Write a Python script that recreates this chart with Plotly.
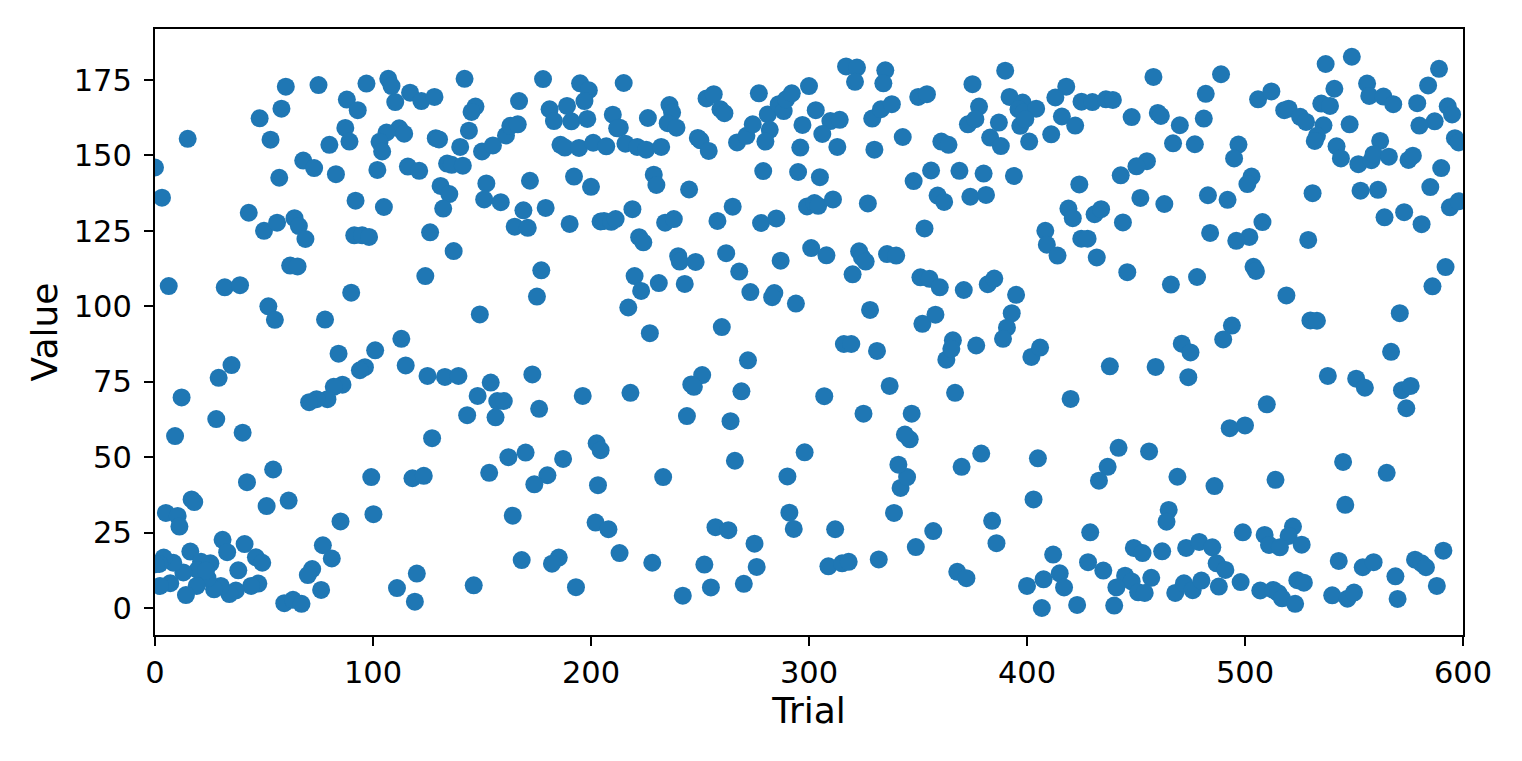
import plotly.graph_objects as go

trial_a = [0,3.2,15,6.3,32,39,52,55,43,50,56,64,66,69,62,65.4,78,90,91.4,95,98.2,92,105,57,53,48,58,60,75,68,73,83,80,87.3,89.2,88,93,97,107,108.5,110.2,117,122.2,128.2,142,147,145.2,144,140,150,155,161,163,166.4,167,178,195,199,197,181,189,183,191,198.3,186,188,194.5,201,112,114.3,106.2,103,104.2,102,116,121.2,128.8,130.3,134,136.1,141.2,131,135,132.2,126.2,137,124,152,151,158.6,172,169,179.2,165,171,190.2,192.2,200,204.4,177.2,175.2,149,113]
value_a = [146,136,155.5,106.7,106.3,107,100,95.5,131,125,127.7,129.2,126.6,122.3,113.5,113.2,95.6,104.5,123.5,123.5,123,135,132.9,142.6,155.2,162.3,165.5,172.8,173.3,148.3,145.8,143.8,153.5,159.1,154.6,168.5,165,173.8,175.4,173,167.7,170.8,168,169.4,175.4,166.2,164.4,158.2,152.8,151.3,153.3,156.6,159.8,160.3,168,175.3,173.9,171.6,168,165.3,166.4,161.4,161.3,162.1,153.5,152.6,152.5,154.2,159,157.2,157.6,154.5,151.3,145.2,146.3,144.9,155.7,155.3,147.3,146.9,146.6,139.9,137.2,132.4,124.5,118.3,110,140.7,135.4,134.5,141.6,131.8,132.6,126.4,126,127.3,143,139.6,128.1,111.9,103.2,97.3,89.2]

trial_b = [115,101,84.2,96.3,94,86,82,79.1,74.1,70.7,125,133,139.2,154,148,157,160,143.2,156.2,173.1,176.2,196.2,127.1,202.6,204.4,162.1,170,187.2,153.3,180,174,203.2,164.1,202.1,168.2,185.2,182.1,193.1,146.2,111,120.1,119.2,99.2,118.1,123.3,100.2,85.1,54.2,42.2,51.2,61.3,35.1,29.2,12.2,28.1,9.2,40.2,16.8,18,5,10.4,11.2,31,41.1,33.1,16.2,46.3,49.2,77,81.1,72.1,70.1,76.2,38.2,59.3,63.3,67.2,47.4,44.1,37.1,34.1,30.2,27.1,25.4,21.1,19.6,24.1,23.4,19.1,14.2,13,8.4,4,2,7,2.3,0.3]
value_b = [80.4,85.4,84.3,79.8,78.8,74,73.3,69.2,69.2,68.2,76.9,76.6,76.9,74.7,70.3,68.6,68.6,63.9,63.2,77.4,66,70.3,56.3,54.6,52.3,50,51.5,49.4,44.8,44,41,40.7,30.6,28.3,15.9,16.7,14.7,6.9,7.5,6.6,11.4,2.1,43.4,43,43.8,31.1,28.7,45.9,41.7,33.8,35.6,80.5,76.3,69.8,62.6,57,58.1,36,35.1,31.5,30.5,27,22.6,21.2,18.5,18.7,16.8,15,20.8,16.4,12.9,10.9,6,12.5,1.6,2.7,1.4,8.1,7.3,5.8,4.6,7.3,6.2,14.8,15.3,12.6,9.9,12.4,7.3,4.3,11.8,15,16.7,14.6,8.2,7.3,14.5]

trial_c = [215,210,213.2,212,207,215.8,221.2,225.3,232.2,226.1,236,237.2,235.2,239.2,249,250.2,254,253,256.3,259.4,261.2,267,271.3,274.2,277,281.1,286.1,288.4,289.5,292.1,282,280,300,303.1,297,309.8,314.1,306.1,296,313,330,329,333,338,317,322,321.1,335,334.1,343,350.1,354.1,375,390,392,378,372.9,376.3,387.1,398,396.1,398.4,404.2,396.9,399.2,383.1,388,401,360.7,364,356,348,369,380.1,394,359,362,374,381.2,353,408.4,409.1,228.8,230,245,279,295,305,299.1,302.5,304.2,311,327,265,258,278,285,219,206,209.3,211.3,234,238,222.1,224,240,240.7,248,262,287,301,308,323,324.3,326,335.8,340,320,220,231.1,223,243,268,273.1,284.1,283.1,294,217.1,227,260,328,351.1,355.3,360,371,382,385,395,393,352,358,390.8,389,366,376.7,316,319.4]
value_c = [174,163.5,159.2,159,153,153.9,152.8,151.9,152.8,162.4,166.7,164.2,160.7,159.2,155.8,155,151.5,168.9,170.3,165.3,164,154.3,156.5,160.3,170.6,163.6,167,164.7,168.6,170.6,158.5,154.6,173,165,160.1,161.4,161.8,157.1,152.6,152.8,151.9,162.2,165.3,167,179.5,179.1,174.4,178.2,173.9,156.1,169.4,170.3,173.6,178.1,169.4,166.2,160.3,162,160.9,167.5,165.3,164.2,165.5,159.8,162,155.9,153.1,154.6,154.6,153.5,145,141.5,144.9,144,143.2,136.7,134.6,136.3,136.9,125.8,125,120.4,143.6,140.2,138.7,144.8,144.5,142.8,133.1,134.2,133.3,135.4,134.1,133,128.3,127.6,129.1,132.2,128.3,128,128.9,127.7,128.9,122.9,121.2,116.6,114.8,114.7,117.6,115.1,119.3,116.9,118.2,116.2,114.8,117.3,116.8,110.6,110,107.7,105.1,107.4,111.5,104.7,104.4,103,100.9,99.6,91.1,93.1,98.8,109.6,109.1,106.3,105.4,107.3,109.2,103.8,97.7,94.2,97.2,92.9,89.2,88.7,87,87.5,87.5]

trial_d = [272,251,246,247.2,218.1,269,244,264,266,233.1,208,213.1,228.1,257.1,263,275,252,276,255,270.1,242.1,298,290.1,291,293,312,308.9,315.2,318.2,332,349,357,339,342,345,341,346.2,344,347.1,325,307,337,367,363,365.3,331.2,402,406,379,370,405,403,384,386,368,372.2,400,407.6,406.8]
value_d = [82.1,77.2,74.1,73.3,71.3,71.8,63.6,61.9,48.8,43.4,26.1,18.2,15,26.8,25.8,21.3,14.4,13.6,6.8,8,4.1,51.6,43.6,31.6,26.2,26.1,13.8,14.8,15.3,16.1,20.2,25.5,31.5,39.8,43.4,47.5,55.9,57.5,64.4,64.4,70.2,73.6,71.3,82.3,85.9,85.2,83.2,86.3,51.2,46.8,49.6,36,28.9,21.5,12,9.9,7.3,9.5,0]

trial_e = [418,413,425,430,436.2,439.4,416,422.1,411.1,448,458,460,461.4,470.1,467,477,481.1,482,489,506,512.1,518,520,525.3,528,497,495,503,501.1,455,450.2,443,424,419,421,431,434,444,452,463,483,492,508,502,496,484,531,529,414,424.9,427.8,432,446,466,478,503.9,505,519,530,533,571,586,592,494,490,471,535,539,541,537,549,536,533,532,542,544,548,552,558,562,559,566,556,557,563.5,568,579,584,589,593,595,587,580,596.3,598,575,577,590,585,594,598,561,553,564,573,581]
value_e = [172.8,169.2,167.8,167.7,168.6,168.4,162.9,159.9,157,162.7,176,164.1,163.1,160,154,153.7,162.2,170.4,176.9,168.6,171.2,165,165.5,162.8,161.1,153.6,149,143,140.5,148.1,146.4,143.4,140.4,132.4,129.2,130.5,132.2,127.8,135.9,133.9,136.8,135.3,127.9,123,121.7,124.3,137.5,122,116.8,122.4,122.4,116.2,111.3,107.2,109.7,113.1,111.7,103.6,95.3,95.2,97.7,106.6,113,93.6,89,87.6,167.2,166.4,172.1,180.3,182.7,160,156.5,154.8,153,149,160.3,147.1,148.4,154.8,150.4,149.6,173.8,169.7,169.5,167,167.3,173.2,178.7,166.3,163.6,161.3,159.9,155.7,154.3,148.5,149.9,145.8,139.5,132.8,134.8,138.6,138.3,129.5,131.2,127.2]

trial_f = [438,459,475,474,420,510,493,500,442,456,437,433,469,486,514,465,464,499,429,449,453,462,473,479,485,487,491,509,522,520,526,511,516,412,428,435,415,417,423,440,445,448,441,457,451,454,468,472,476,480,488,498,507,513,515.3,517,523,524,527,543,540,547,550,554,559,569,570,578,581,583,588,591,545,546,538,551,555,567,572,576,574,565]
value_f = [80.1,79.9,84.7,76.5,69.3,67.5,59.6,60.5,53.1,51.9,46.8,42.2,43.5,40.4,42.5,32.5,28.6,25.1,25.1,19.9,18.2,18.8,19.9,21.9,20.1,14.8,12.6,24.2,27,23.9,21,20.9,20.1,17.7,15.2,12.4,11.5,6.8,1,0.8,10.7,8.8,6.8,10,5.2,5,5,8.2,5.9,9.1,7.1,8.6,5.8,6,4.9,3.2,1.4,9.2,8.4,15.6,4.2,3.1,5.1,13.5,15.2,10.5,3,16,14.8,13.5,7.3,19,48.4,34.2,76.9,76,73,84.9,72.2,73.6,66.2,44.8]

trials = trial_a + trial_b + trial_c + trial_d + trial_e + trial_f
values = value_a + value_b + value_c + value_d + value_e + value_f
y_ticks = [0, 25, 50, 75, 100, 125, 150, 175]
x_ticks = [0, 100, 200, 300, 400, 500, 600]

FONT = "DejaVu Sans"
fig = go.Figure(go.Scatter(
    x=trials, y=values, mode="markers",
    marker=dict(color="#1f77b4", size=18, line=dict(width=0)),
    hoverinfo="skip",
))
axis_common = dict(
    showgrid=False, zeroline=False, showline=True, mirror=True,
    linecolor="black", linewidth=2, ticks="outside", ticklen=9,
    tickwidth=2, tickcolor="black", tickfont=dict(family=FONT, size=30.5, color="black"),
)
fig.update_xaxes(range=[0, 600], tickvals=x_ticks, **axis_common,
                 title=dict(text="Trial", font=dict(family=FONT, size=36, color="black"), standoff=9))
fig.update_yaxes(range=[-8.95, 191.9], tickvals=y_ticks, ticklabelstandoff=6, **axis_common,
                 title=dict(text="Value", font=dict(family=FONT, size=36, color="black"), standoff=5))
fig.update_layout(
    width=1522, height=761, showlegend=False,
    plot_bgcolor="white", paper_bgcolor="white",
    margin=dict(l=155, r=59, t=29, b=126, autoexpand=False),
)
fig.write_html("out.html", config={"displayModeBar": False},
               post_script="document.body.style.margin='0';document.documentElement.style.overflow='hidden';")
